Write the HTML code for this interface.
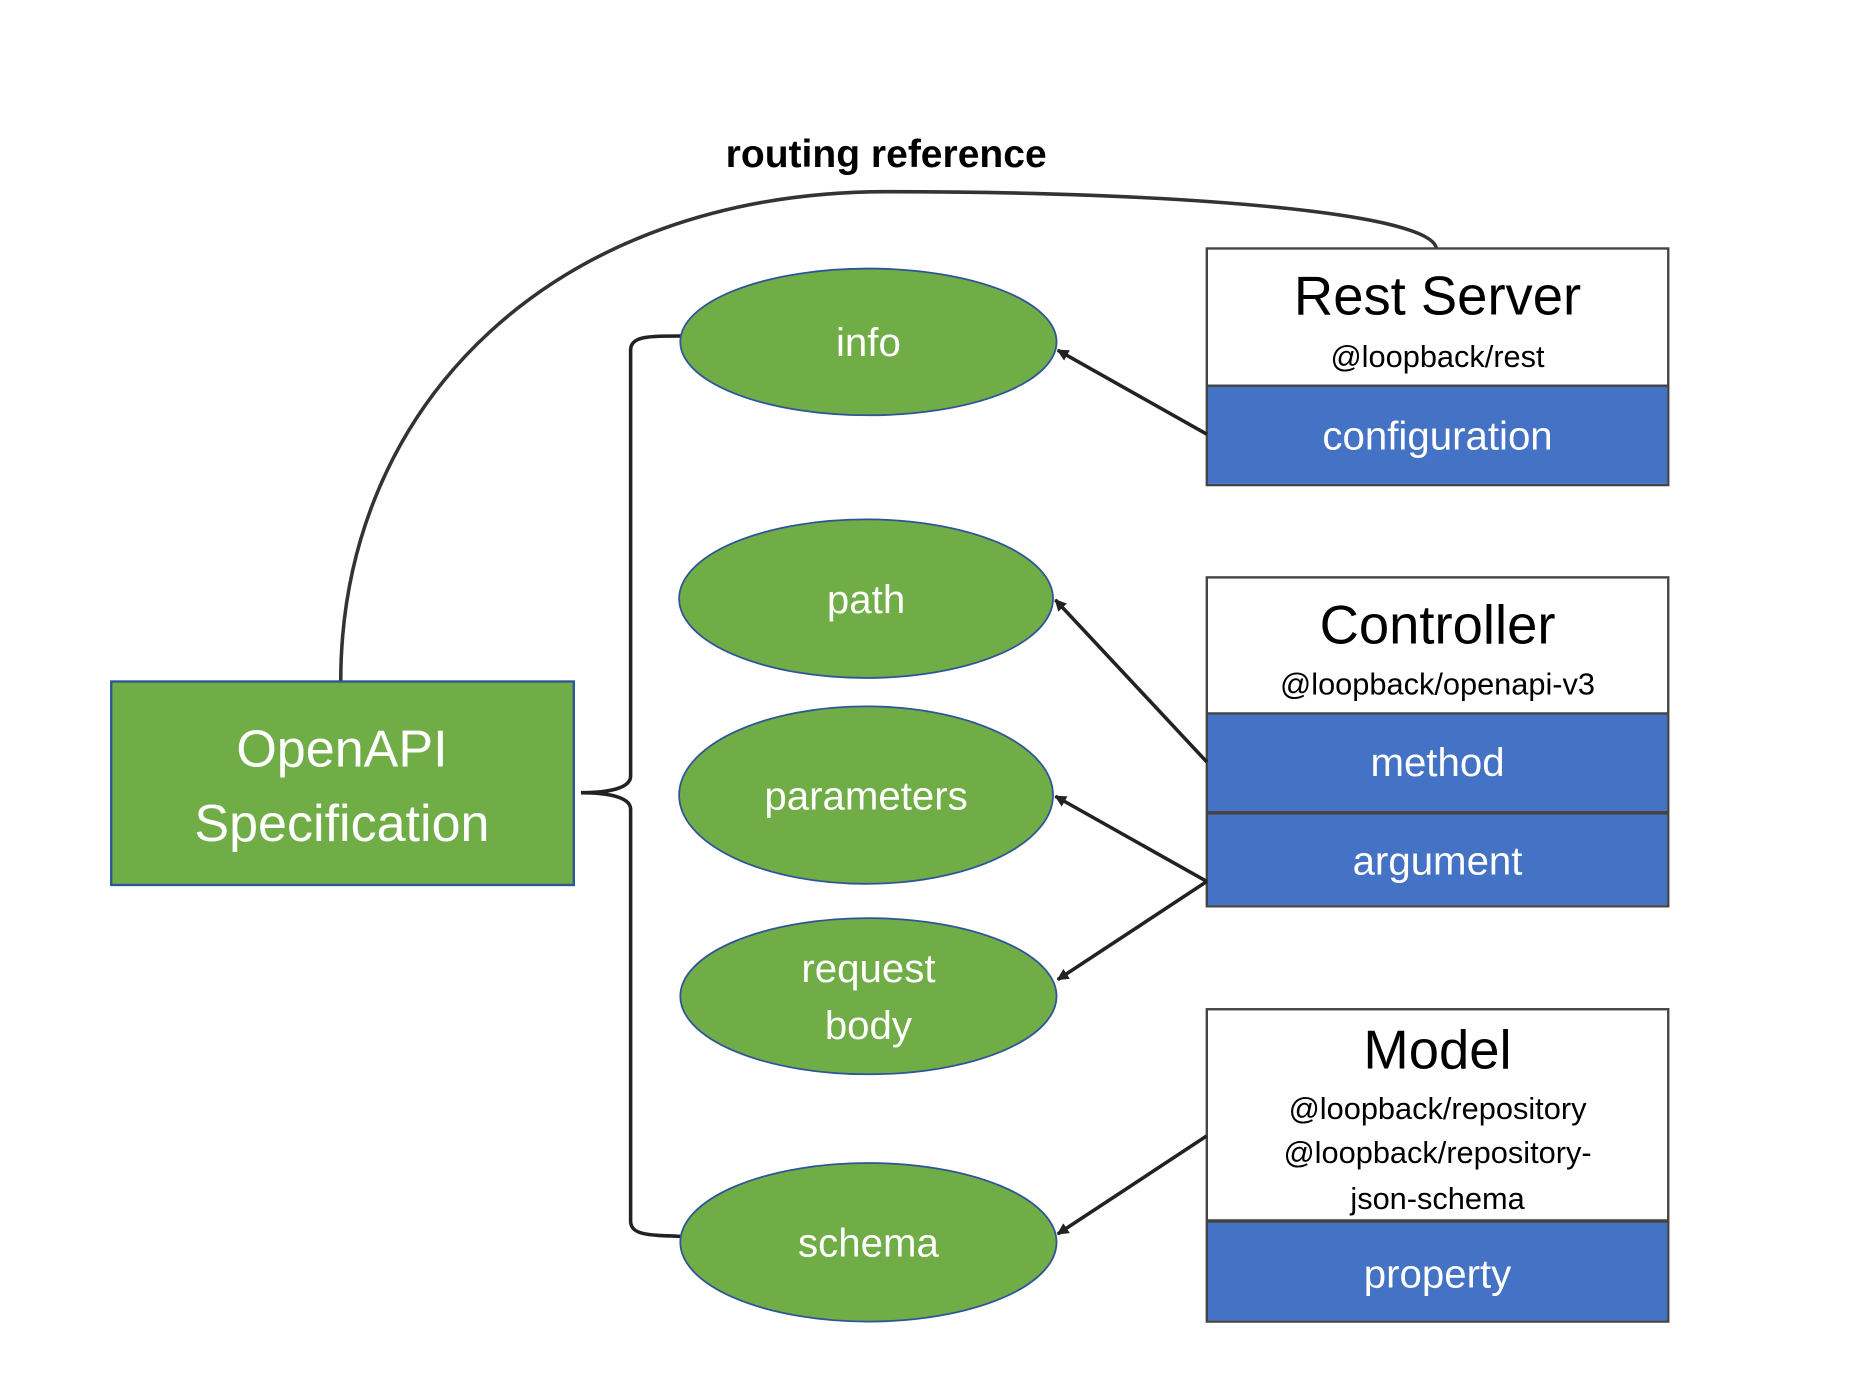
<!DOCTYPE html>
<html><head><meta charset="utf-8"><style>
html,body{margin:0;padding:0;background:#fff;}
svg{display:block;}
text{font-family:"Liberation Sans","DejaVu Sans",sans-serif;}
</style></head><body>
<svg width="1854" height="1376" viewBox="0 0 1567 1163" preserveAspectRatio="none" xmlns="http://www.w3.org/2000/svg">
<defs>
<marker id="ar" markerWidth="10" markerHeight="10" refX="9" refY="5" orient="auto" markerUnits="userSpaceOnUse">
<path d="M0,0 L10,5 L0,10 z" fill="#222"/>
</marker>
</defs>
<rect width="1567" height="1163" fill="#fff"/>
<text x="749" y="141" font-size="33" font-weight="bold" text-anchor="middle" fill="#000">routing reference</text>
<path d="M288,576 C288,340 470,162 750,162 C1000,162 1210,180 1214,210" fill="none" stroke="#333" stroke-width="3"/>

<rect x="94" y="576" width="391" height="172" fill="#70AD47" stroke="#2F5597" stroke-width="2"/>
<text x="289" y="648" font-size="44" fill="#fff" text-anchor="middle">OpenAPI</text>
<text x="289" y="711" font-size="44" fill="#fff" text-anchor="middle">Specification</text>

<path d="M576,284 C548,284 533,284 533,296 L533,656 C533,666 515,670 491,670 C515,670 533,674 533,684 L533,1032 C533,1044 548,1044 576,1045" fill="none" stroke="#222" stroke-width="3"/>

<g fill="#70AD47" stroke="#2F5597" stroke-width="1.5">
<ellipse cx="734" cy="289" rx="159" ry="62"/>
<ellipse cx="732" cy="506" rx="158" ry="67"/>
<ellipse cx="732" cy="672" rx="158" ry="75"/>
<ellipse cx="734" cy="842" rx="159" ry="66"/>
<ellipse cx="734" cy="1050" rx="159" ry="67"/>
</g>
<g font-size="34" fill="#fff" text-anchor="middle">
<text x="734" y="301">info</text>
<text x="732" y="518">path</text>
<text x="732" y="684">parameters</text>
<text x="734" y="830">request</text>
<text x="734" y="878">body</text>
<text x="734" y="1062">schema</text>
</g>

<rect x="1020" y="210" width="390" height="200" fill="#fff" stroke="#444" stroke-width="2"/>
<rect x="1021" y="326" width="388" height="83" fill="#4472C4"/>
<line x1="1020" y1="326" x2="1410" y2="326" stroke="#444" stroke-width="2"/>
<text x="1215" y="266" font-size="46" text-anchor="middle">Rest Server</text>
<text x="1215" y="310" font-size="26" text-anchor="middle">@loopback/rest</text>
<text x="1215" y="380" font-size="34" fill="#fff" text-anchor="middle">configuration</text>

<rect x="1020" y="488" width="390" height="278" fill="#fff" stroke="#444" stroke-width="2"/>
<rect x="1021" y="603" width="388" height="162" fill="#4472C4"/>
<line x1="1020" y1="603" x2="1410" y2="603" stroke="#444" stroke-width="2"/>
<line x1="1020" y1="687" x2="1410" y2="687" stroke="#444" stroke-width="3"/>
<text x="1215" y="544" font-size="46" text-anchor="middle">Controller</text>
<text x="1215" y="587" font-size="26" text-anchor="middle">@loopback/openapi-v3</text>
<text x="1215" y="656" font-size="34" fill="#fff" text-anchor="middle">method</text>
<text x="1215" y="739" font-size="34" fill="#fff" text-anchor="middle">argument</text>

<rect x="1020" y="853" width="390" height="264" fill="#fff" stroke="#444" stroke-width="2"/>
<rect x="1021" y="1032" width="388" height="84" fill="#4472C4"/>
<line x1="1020" y1="1032" x2="1410" y2="1032" stroke="#444" stroke-width="3"/>
<text x="1215" y="903" font-size="46" text-anchor="middle">Model</text>
<text x="1215" y="946" font-size="26" text-anchor="middle">@loopback/repository</text>
<text x="1215" y="983" font-size="26" text-anchor="middle">@loopback/repository-</text>
<text x="1215" y="1022" font-size="26" text-anchor="middle">json-schema</text>
<text x="1215" y="1088" font-size="34" fill="#fff" text-anchor="middle">property</text>

<g stroke="#222" stroke-width="3" fill="none" marker-end="url(#ar)">
<line x1="1020" y1="367" x2="894" y2="296"/>
<line x1="1020" y1="644" x2="892" y2="507"/>
<line x1="1020" y1="745" x2="892" y2="673"/>
<line x1="1020" y1="745" x2="894" y2="828"/>
<line x1="1020" y1="960" x2="894" y2="1043"/>
</g>
</svg>
</body></html>
